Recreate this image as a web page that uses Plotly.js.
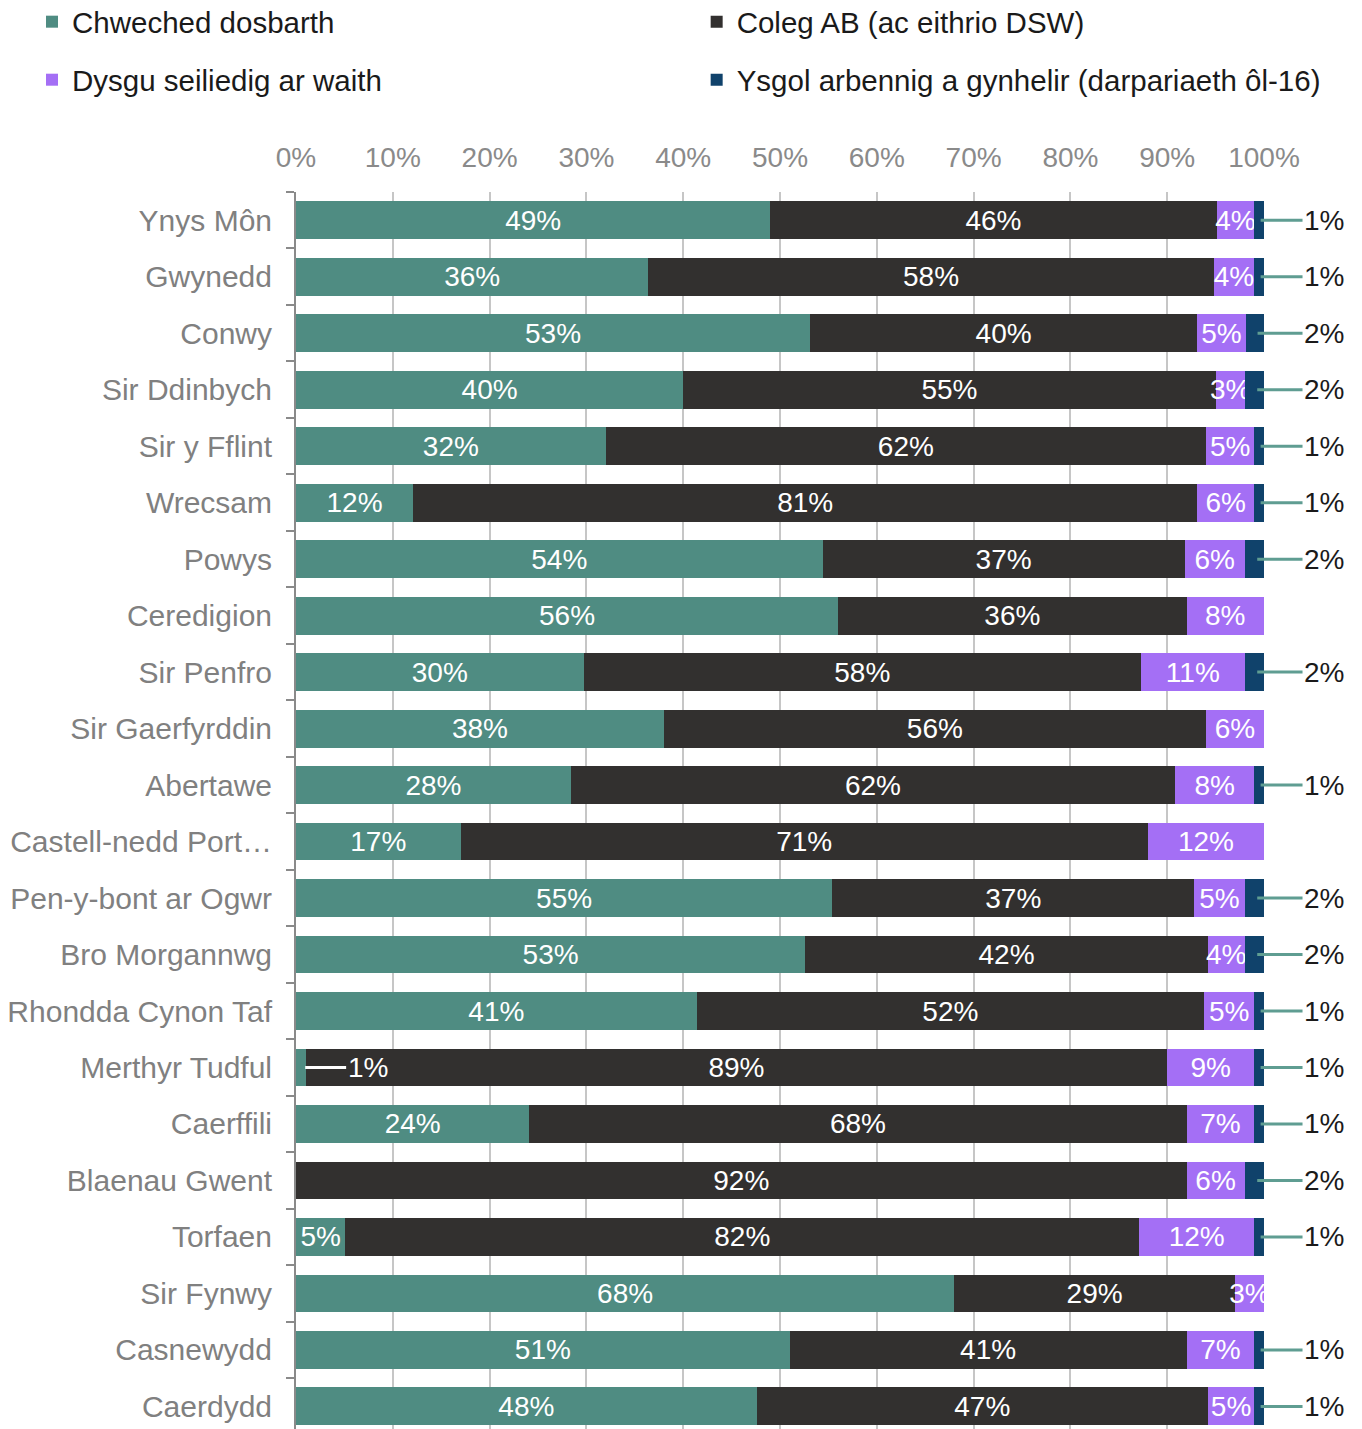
<!DOCTYPE html>
<html>
<head>
<meta charset="utf-8">
<script src="https://cdn.plot.ly/plotly-3.0.1.min.js"></script>
<style>
  html, body { margin: 0; padding: 0; background: #ffffff; }
  #chart { width: 1362px; height: 1429px; }
</style>
</head>
<body>
<div id="chart"></div>
<script>
const categories = [
  "Ynys Môn", "Gwynedd", "Conwy", "Sir Ddinbych", "Sir y Fflint", "Wrecsam",
  "Powys", "Ceredigion", "Sir Penfro", "Sir Gaerfyrddin", "Abertawe",
  "Castell-nedd Port…", "Pen-y-bont ar Ogwr", "Bro Morgannwg",
  "Rhondda Cynon Taf", "Merthyr Tudful", "Caerffili", "Blaenau Gwent",
  "Torfaen", "Sir Fynwy", "Casnewydd", "Caerdydd"
];
const seriesNames = [
  "Chweched dosbarth",
  "Coleg AB (ac eithrio DSW)",
  "Dysgu seiliedig ar waith",
  "Ysgol arbennig a gynhelir (darpariaeth ôl-16)"
];
const sixthForm     = [49.0, 36.4, 53.1, 40.0, 32.0, 12.1, 54.4, 56.0, 29.7, 38.0, 28.4, 17.0, 55.4, 52.6, 41.4, 1.0, 24.1, 0, 5.1, 68.0, 51.0, 47.6];
const feCollege     = [46.1, 58.4, 40.0, 55.0, 62.0, 81.0, 37.4, 36.0, 57.6, 56.0, 62.4, 71.0, 37.4, 41.6, 52.4, 89.0, 67.9, 92.0, 82.0, 29.0, 41.0, 46.6];
const workBased     = [3.9, 4.2, 5.0, 3.0, 5.0, 5.9, 6.2, 8.0, 10.7, 6.0, 8.2, 12.0, 5.2, 3.8, 5.2, 9.0, 7.0, 6.0, 11.9, 3.0, 7.0, 4.8];
const specialSchool = [1.0, 1.0, 1.9, 2.0, 1.0, 1.0, 2.0, 0, 2.0, 0, 1.0, 0, 2.0, 2.0, 1.0, 1.0, 1.0, 2.0, 1.0, 0, 1.0, 1.0];
const xTickValues = [0, 10, 20, 30, 40, 50, 60, 70, 80, 90, 100];

const colors = ["#4f8c82", "#32302f", "#a46ff5", "#10426b"];
const FONT = "Liberation Sans, Arial, sans-serif";
const FS = 28;
const seriesValues = [sixthForm, feCollege, workBased, specialSchool];
const insideMin = 2.5;

const legendPos = [
  {x: 0.0235, y: 0.9846},
  {x: 0.5115, y: 0.9846},
  {x: 0.0235, y: 0.9440},
  {x: 0.5115, y: 0.9440}
];

const traces = seriesValues.map((vals, i) => ({
  type: "bar",
  orientation: "h",
  name: seriesNames[i],
  y: categories,
  x: vals,
  marker: {color: colors[i]},
  text: vals.map(v => (v >= insideMin ? Math.round(v) + "%" : "")),
  textposition: "inside",
  insidetextanchor: "middle",
  constraintext: "none",
  textangle: 0,
  textfont: {family: FONT, size: FS, color: "#ffffff"},
  hoverinfo: "skip",
  legend: i === 0 ? "legend" : "legend" + (i + 1)
}));

const annotations = [];
// small special-school segments: outside labels with leader lines
specialSchool.forEach((v, i) => {
  if (v > 0 && v < insideMin) {
    annotations.push({
      x: 100 - v * 0.35, y: categories[i], xref: "x", yref: "y",
      ax: 106.2, ay: 0, axref: "x", ayref: "pixel",
      text: Math.round(v) + "%", showarrow: true, arrowhead: 0,
      arrowwidth: 3, arrowcolor: "#5f9d92",
      font: {family: FONT, size: FS, color: "#1a1a1a"}
    });
  }
});
// small sixth-form segments
sixthForm.forEach((v, i) => {
  if (v > 0 && v < insideMin) {
    annotations.push({
      x: v * 0.95, y: categories[i], xref: "x", yref: "y",
      ax: 7.4, ay: 0, axref: "x", ayref: "pixel",
      text: Math.round(v) + "%", showarrow: true, arrowhead: 0,
      arrowwidth: 3, arrowcolor: "#ffffff",
      font: {family: FONT, size: FS, color: "#ffffff"}
    });
  }
});

const legendBase = (p) => ({
  x: p.x, y: p.y, xref: "container", yref: "container",
  xanchor: "left", yanchor: "middle",
  orientation: "h", bgcolor: "rgba(0,0,0,0)", borderwidth: 0,
  font: {family: FONT, size: 29.5, color: "#1a1a1a"},
  itemwidth: 30
});

const layout = {
  width: 1362, height: 1429,
  margin: {l: 296, r: 98, t: 192, b: 0, pad: 0, autoexpand: false},
  paper_bgcolor: "#ffffff", plot_bgcolor: "#ffffff",
  barmode: "stack", bargap: 0.33,
  showlegend: true,
  legend: legendBase(legendPos[0]),
  legend2: legendBase(legendPos[1]),
  legend3: legendBase(legendPos[2]),
  legend4: legendBase(legendPos[3]),
  xaxis: {
    side: "top", range: [0, 100], tickvals: xTickValues,
    ticktext: xTickValues.map(v => v + "%"),
    showgrid: true, gridcolor: "#c6c6c6", gridwidth: 2,
    zeroline: false, showline: false, ticks: "",
    ticklabelstandoff: 18,
    tickfont: {family: FONT, size: FS, color: "#8a8a8a"},
    fixedrange: true
  },
  yaxis: {
    type: "category", range: [21.4, -0.5],
    showline: true, linecolor: "#8a8a8a", linewidth: 2,
    ticks: "outside", ticklen: 8, tickwidth: 2, tickcolor: "#8a8a8a",
    tickson: "boundaries", showgrid: false, zeroline: false,
    ticklabelstandoff: 16,
    tickfont: {family: FONT, size: 30, color: "#808080"},
    fixedrange: true
  },
  annotations: annotations
};

Plotly.newPlot("chart", traces, layout, {staticPlot: true, displayModeBar: false});
</script>
</body>
</html>
